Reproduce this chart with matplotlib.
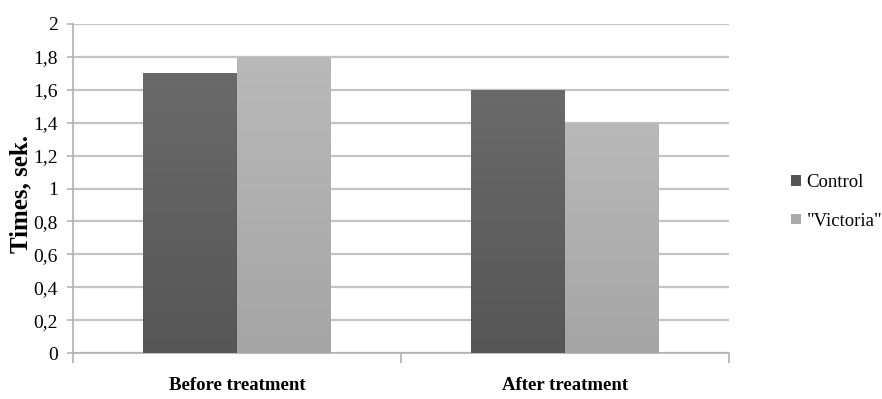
import numpy as np
import matplotlib
matplotlib.use("Agg")
import matplotlib.pyplot as plt
from matplotlib.patches import Patch
from matplotlib.colors import LinearSegmentedColormap

categories = ["Before treatment", "After treatment"]
series_names = ["Control", "\"Victoria\""]
control = [1.7, 1.6]
victoria = [1.8, 1.4]
y_ticks = [0, 0.2, 0.4, 0.6, 0.8, 1.0, 1.2, 1.4, 1.6, 1.8, 2.0]
y_tick_labels = ["0", "0,2", "0,4", "0,6", "0,8", "1", "1,2", "1,4", "1,6", "1,8", "2"]
y_label = "Times, sek."

plt.rcParams["font.family"] = ["Liberation Serif", "DejaVu Serif"]

fig = plt.figure(figsize=(8.82, 3.99), dpi=100)
ax = fig.add_axes([73 / 882, 1 - 353 / 399, (729 - 73) / 882, (353 - 24) / 399])

x = np.arange(len(categories))
w = 0.286

# (top colour, bottom colour) for the vertical shading of each series
shades = [("#6a6a6a", "#565656"), ("#b9b9b9", "#a5a5a5")]
base = ["#5f5f5f", "#b0b0b0"]

for i, (vals, offset) in enumerate([(control, -w / 2), (victoria, w / 2)]):
    bars = ax.bar(x + offset, vals, w, color=base[i], edgecolor="none", zorder=3)
    cmap = LinearSegmentedColormap.from_list(f"g{i}", [shades[i][1], shades[i][0]])
    grad = np.linspace(0, 1, 256).reshape(-1, 1)
    for b in bars:
        x0, y0 = b.get_x(), b.get_y()
        x1, y1 = x0 + b.get_width(), y0 + b.get_height()
        im = ax.imshow(grad, cmap=cmap, origin="lower", aspect="auto",
                       extent=(x0, x1, y0, y1), zorder=4)
        im.set_clip_path(b)

ax.set_xlim(-0.5, 1.5)
ax.set_ylim(0, 2)

ax.set_yticks(y_ticks)
ax.set_yticklabels(y_tick_labels, fontsize=14)
ax.tick_params(axis="y", length=4, width=1.2, color="#b0b0b0", pad=7)

ax.set_xticks(x)
ax.set_xticklabels(categories, fontsize=13.5, fontweight="bold")
ax.set_xticks([-0.5, 0.5, 1.5], minor=True)
ax.tick_params(axis="x", which="major", length=0, pad=17)
ax.tick_params(axis="x", which="minor", length=7, width=1.2, color="#b0b0b0")

ax.grid(axis="y", color="#c4c4c4", linewidth=1.6, zorder=0)
ax.set_axisbelow(True)

for s in ["top", "right"]:
    ax.spines[s].set_visible(False)
for s in ["left", "bottom"]:
    ax.spines[s].set_color("#b0b0b0")
    ax.spines[s].set_linewidth(1.2)

fig.text(21 / 882, 1 - 194 / 399, y_label, rotation=90, ha="center", va="center",
         fontsize=18, fontweight="bold")

handles = [Patch(facecolor="#555555", edgecolor="none"),
           Patch(facecolor="#aaaaaa", edgecolor="none")]
fig.legend(handles, series_names, loc="center left",
           bbox_to_anchor=(782 / 882, 1 - 202 / 399), frameon=False, fontsize=13.5,
           handlelength=0.5, handleheight=0.5, handletextpad=0.3,
           labelspacing=1.15, borderpad=0)

fig.savefig("out.png", dpi=100)
